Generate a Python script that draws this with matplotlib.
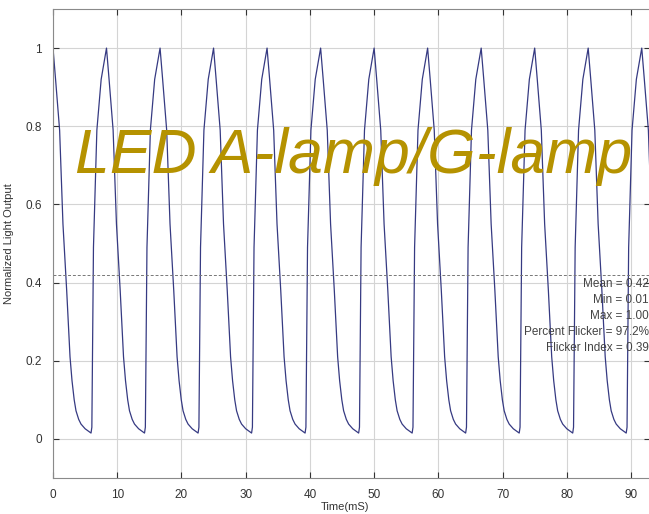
import matplotlib.pyplot as plt
import numpy as np

plt.rcParams['font.family'] = ['Liberation Sans', 'DejaVu Sans']

# one light cycle: time after the peak (ms) and normalized output
cycle_dt = [0.0, 0.4, 1.03, 1.55, 2.13, 2.4, 2.65, 2.96, 3.3, 3.58, 4.0, 4.36,
            5.0, 5.6, 5.92, 6.05, 6.3, 6.83, 7.5]
cycle_val = [1.0, 0.92, 0.79, 0.55, 0.38, 0.29, 0.21, 0.149, 0.1, 0.072, 0.05, 0.038,
             0.026, 0.019, 0.015, 0.03, 0.49, 0.79, 0.92]

# peak times (ms), 120 Hz ripple
peak_times = [0.0, 8.33, 16.67, 25.0, 33.33, 41.67, 50.0, 58.33, 66.67, 75.0, 83.33, 91.67]

mean_val = 0.42
stats = ['Mean = 0.42', 'Min = 0.01', 'Max = 1.00',
         'Percent Flicker = 97.2%', 'Flicker Index = 0.39']
stats_y = [0.397, 0.356, 0.315, 0.274, 0.233]

x_ticks = [0, 10, 20, 30, 40, 50, 60, 70, 80, 90]
y_ticks = [0, 0.2, 0.4, 0.6, 0.8, 1]
y_ticklabels = ['0', '0.2', '0.4', '0.6', '0.8', '1']

# build the trace from the repeated cycle
t = np.concatenate([np.array(cycle_dt) + p for p in peak_times])
v = np.tile(cycle_val, len(peak_times))

fig = plt.figure(figsize=(6.49, 5.14), dpi=100)
ax = fig.add_axes([53 / 649, 1 - 478 / 514, 1 - 53 / 649 + 0.001, (478 - 9) / 514])

ax.plot(t, v, color='#363a82', lw=0.9)
ax.axhline(mean_val, color='#777777', lw=0.7, ls=(0, (3, 2)))

ax.set_xlim(0, 92.9)
ax.set_ylim(-0.1, 1.1)
ax.set_xticks(x_ticks)
ax.set_yticks(y_ticks)
ax.set_yticklabels(y_ticklabels)
ax.grid(True, color='#d4d4d4', lw=0.8)
ax.tick_params(direction='in', top=True, right=True, labelsize=8.5,
               colors='#333333', length=4, pad=8)
for s in ax.spines.values():
    s.set_color('#8a8a8a')

ax.set_xlabel('Time(mS)', fontsize=8, color='#333333')
ax.xaxis.set_label_coords(0.49, -0.052)
ax.set_ylabel('Normalized Light Output', fontsize=8, color='#333333')
ax.yaxis.set_label_coords(-0.065, 0.5)

for label, yv in zip(stats, stats_y):
    ax.text(92.8, yv, label, ha='right', va='center', fontsize=8.5,
            color='#444444')

fig.text(0.115, 0.695, 'LED A-lamp/G-lamp', fontsize=45, style='italic',
         color='#b59200', ha='left', va='center')

fig.savefig('out.png', dpi=100)
